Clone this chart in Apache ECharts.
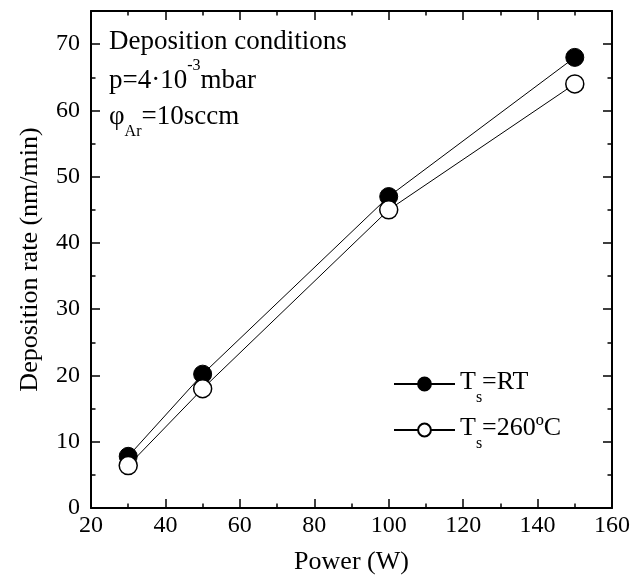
<!DOCTYPE html>
<html>
<head>
<meta charset="utf-8">
<script src="https://cdn.jsdelivr.net/npm/echarts@6/dist/echarts.min.js"></script>
<style>
html,body{margin:0;padding:0;background:#fff;}
#chart{width:633px;height:584px;}
</style>
</head>
<body>
<div id="chart"></div>
<script>
// ---- data ----
const power = [30, 50, 100, 150];
const rateRT = [7.8, 20.2, 47, 68];
const rate260 = [6.4, 18, 45, 64];
const seriesNames = ['T_s=RT', 'T_s=260ºC'];
const xTicks = [20, 40, 60, 80, 100, 120, 140, 160];
const yTicks = [0, 10, 20, 30, 40, 50, 60, 70];

const FONT = '"Liberation Serif", "DejaVu Serif", serif';
const chart = echarts.init(document.getElementById('chart'), null, {renderer: 'canvas'});

const xMin = xTicks[0], xMax = xTicks[xTicks.length - 1];
const yMin = yTicks[0], yMax = 75;

function xAx(pos, labels) {
  return {
    type: 'value', position: pos, min: xMin, max: xMax, interval: 20,
    axisLine: {show: true, onZero: false, lineStyle: {color: '#000', width: 2}},
    axisTick: {show: true, inside: true, length: 9, lineStyle: {color: '#000', width: 1.5}},
    minorTick: {show: true, splitNumber: 2, length: 4.5, lineStyle: {color: '#000', width: 1.5}},
    splitLine: {show: false},
    axisLabel: labels ? {show: true, color: '#000', fontFamily: FONT, fontSize: 24, margin: 6} : {show: false},
    name: labels ? 'Power (W)' : '',
    nameLocation: 'middle', nameGap: 41,
    nameTextStyle: {color: '#000', fontFamily: FONT, fontSize: 26}
  };
}
function yAx(pos, interval, major, labels) {
  return {
    type: 'value', position: pos, min: yMin, max: yMax, interval: interval,
    axisLine: {show: major, onZero: false, lineStyle: {color: '#000', width: 2}},
    axisTick: {show: true, inside: true, length: major ? 9 : 4.5, lineStyle: {color: '#000', width: 1.5}},
    splitLine: {show: false},
    axisLabel: labels ? {show: true, color: '#000', fontFamily: FONT, fontSize: 24, margin: 11,
      formatter: v => (yTicks.indexOf(v) >= 0 ? String(v) : '')} : {show: false},
    name: labels ? 'Deposition rate (nm/min)' : '',
    nameLocation: 'middle', nameGap: 48,
    nameTextStyle: {color: '#000', fontFamily: FONT, fontSize: 26}
  };
}

const legendRich = {
  t: {fontFamily: FONT, fontSize: 26, color: '#000', lineHeight: 30, verticalAlign: 'top'},
  s: {fontFamily: FONT, fontSize: 16, color: '#000', lineHeight: 16, padding: [21, 0, 0, 0], verticalAlign: 'top'}
};

const option = {
  backgroundColor: '#fff',
  animation: false,
  grid: {left: 91, right: 17, top: 11, bottom: 76, containLabel: false},
  xAxis: [xAx('bottom', true), xAx('top', false)],
  yAxis: [yAx('left', 10, true, true), yAx('left', 5, false, false), yAx('right', 10, true, false), yAx('right', 5, false, false)],
  legend: {
    orient: 'vertical', left: 388, top: 364, itemGap: 9,
    itemWidth: 61, itemHeight: 16,
    data: seriesNames,
    formatter: name => {
      const p = name.split('_');
      const rest = p[1].slice(1);
      return '{t|T}{s|s}{t|' + rest + '}';
    },
    textStyle: {rich: legendRich, padding: [0, 0, 0, 0]}
  },
  graphic: [
    {type: 'text', left: 109, top: 28, style: {text: 'Deposition conditions', font: '27px ' + FONT, fill: '#000'}},
    {type: 'text', left: 109, top: 58, style: {
      text: '{m|p=4·10}{u|-3}{m|mbar}',
      rich: {
        m: {fontFamily: FONT, fontSize: 27, fill: '#000', lineHeight: 36, verticalAlign: 'bottom'},
        u: {fontFamily: FONT, fontSize: 16, fill: '#000', lineHeight: 18, verticalAlign: 'top'}
      }}},
    {type: 'text', left: 109, top: 103, style: {
      text: '{m|φ}{s|Ar}{m|=10sccm}',
      rich: {
        m: {fontFamily: FONT, fontSize: 27, fill: '#000', lineHeight: 30, verticalAlign: 'top'},
        s: {fontFamily: FONT, fontSize: 16, fill: '#000', lineHeight: 16, padding: [21, 0, 0, 0], verticalAlign: 'top'}
      }}}
  ],
  series: [
    {
      name: seriesNames[0], type: 'line', xAxisIndex: 0, yAxisIndex: 0,
      data: power.map((x, i) => [x, rateRT[i]]),
      symbol: 'circle', symbolSize: 18,
      lineStyle: {color: '#000', width: 1},
      itemStyle: {color: '#000', borderColor: '#000', borderWidth: 1}
    },
    {
      name: seriesNames[1], type: 'line', xAxisIndex: 0, yAxisIndex: 0,
      data: power.map((x, i) => [x, rate260[i]]),
      symbol: 'circle', symbolSize: 18,
      lineStyle: {color: '#000', width: 1},
      itemStyle: {color: '#fff', borderColor: '#000', borderWidth: 1.5}
    }
  ]
};
chart.setOption(option);
</script>
</body>
</html>
